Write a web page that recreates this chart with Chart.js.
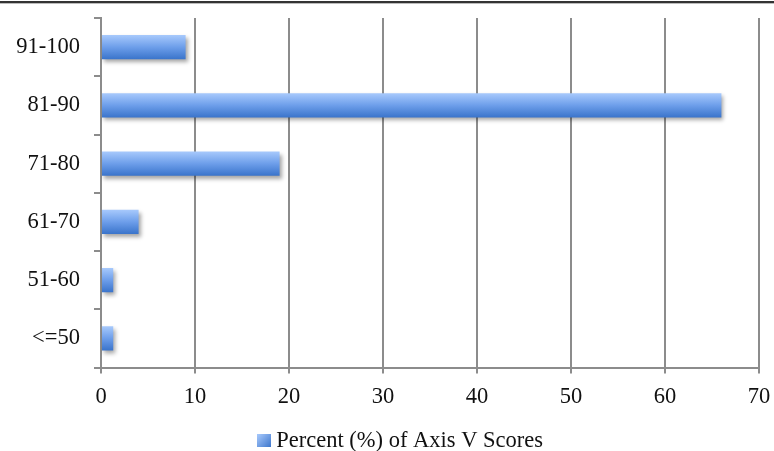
<!DOCTYPE html>
<html>
<head>
<meta charset="utf-8">
<script src="https://cdn.jsdelivr.net/npm/chart.js@4.4.1/dist/chart.umd.min.js"></script>
<style>
  html, body { margin: 0; padding: 0; background: #ffffff; }
  #wrap { width: 774px; height: 451px; }
</style>
</head>
<body>
<div id="wrap"><canvas id="chart" width="774" height="451"></canvas></div>
<script>
// Score bands, top to bottom
const categories = ['91-100', '81-90', '71-80', '61-70', '51-60', '<=50'];
// Percent of Axis V scores in each band
const percentValues = [9, 66, 19, 4, 1.3, 1.3];
const seriesLabel = 'Percent (%) of Axis V Scores';
const xTicks = [0, 10, 20, 30, 40, 50, 60, 70];

const FONT = { family: '"Liberation Serif", "Times New Roman", serif', size: 22.5 };
const GRID = '#8c8c8c';
const TEXT = '#111111';
const BAR_FRACTION = 0.5 * 0.825;

function blueGradient(ctx2d, y0, y1) {
  const g = ctx2d.createLinearGradient(0, y0, 0, y1);
  g.addColorStop(0, '#a7c9fc');
  g.addColorStop(0.5, '#6d9eea');
  g.addColorStop(1, '#3a74cb');
  return g;
}

// Small gradient swatch used as the legend marker
const swatch = document.createElement('canvas');
swatch.width = 14; swatch.height = 13;
(function () {
  const c = swatch.getContext('2d');
  const g = c.createLinearGradient(0, 0, 14, 13);
  g.addColorStop(0, '#a7c9fc');
  g.addColorStop(1, '#3a74cb');
  c.fillStyle = g;
  c.fillRect(0, 0, 14, 13);
})();

// Dark rule across the top of the figure
const topRule = {
  id: 'topRule',
  beforeDraw(chart) {
    const c = chart.ctx;
    c.save();
    c.fillStyle = '#333333';
    c.fillRect(0, 1, chart.width, 2);
    c.fillStyle = '#bbbbbb';
    c.fillRect(0, 3, chart.width, 1);
    c.restore();
  }
};

// Nudge the legend a little to the right of the canvas centre
const legendShift = {
  id: 'legendShift',
  afterLayout(chart) {
    const lg = chart.legend;
    if (!lg) return;
    lg.left += 24;
    lg.right += 24;
  }
};

// Soft drop shadow under the bars
const barShadow = {
  id: 'barShadow',
  beforeDatasetsDraw(chart) {
    const c = chart.ctx;
    c.save();
    c.shadowColor = 'rgba(0,0,0,0.35)';
    c.shadowBlur = 4;
    c.shadowOffsetX = 2;
    c.shadowOffsetY = 3;
  },
  afterDatasetsDraw(chart) {
    chart.ctx.restore();
  }
};

const chart = new Chart(document.getElementById('chart'), {
  type: 'bar',
  data: {
    labels: categories,
    datasets: [{
      label: seriesLabel,
      data: percentValues,
      categoryPercentage: 0.5,
      barPercentage: 0.825,
      borderWidth: 0,
      backgroundColor(ctx) {
        const chart = ctx.chart;
        if (ctx.dataIndex === undefined || !chart.chartArea) return '#6d9eea';
        const y = chart.scales.y;
        const c = y.getPixelForValue(ctx.dataIndex);
        const half = (y.height / categories.length) * BAR_FRACTION / 2;
        return blueGradient(chart.ctx, c - half, c + half);
      }
    }]
  },
  options: {
    indexAxis: 'y',
    responsive: false,
    animation: false,
    devicePixelRatio: 1,
    layout: { padding: { top: 18, right: 15, left: 0, bottom: -11 } },
    plugins: {
      legend: {
        position: 'bottom',
        labels: {
          font: FONT,
          color: TEXT,
          usePointStyle: true,
          pointStyleWidth: 1,
          padding: 6,
          generateLabels(chart) {
            const items = Chart.defaults.plugins.legend.labels.generateLabels(chart);
            items.forEach(it => { it.pointStyle = swatch; });
            return items;
          }
        }
      },
      tooltip: { enabled: false }
    },
    scales: {
      x: {
        min: 0,
        max: 70,
        afterBuildTicks(scale) { scale.ticks = xTicks.map(v => ({ value: v })); },
        afterFit(scale) {
          scale.height = 56;
          scale.paddingLeft = 0;
          scale.paddingRight = 0;
        },
        ticks: { font: FONT, color: TEXT, padding: 10, maxRotation: 0 },
        grid: { color: GRID, lineWidth: 2, tickLength: 6, drawTicks: true },
        border: { color: GRID, width: 2 }
      },
      y: {
        afterFit(scale) {
          scale.width = 101;
          scale.paddingTop = 0;
          scale.paddingBottom = 0;
        },
        ticks: { font: FONT, color: TEXT, padding: 14 },
        grid: { color: GRID, lineWidth: 2, drawOnChartArea: false, tickLength: 7, offset: true },
        border: { color: GRID, width: 2 }
      }
    }
  },
  plugins: [topRule, legendShift, barShadow]
});
</script>
</body>
</html>
